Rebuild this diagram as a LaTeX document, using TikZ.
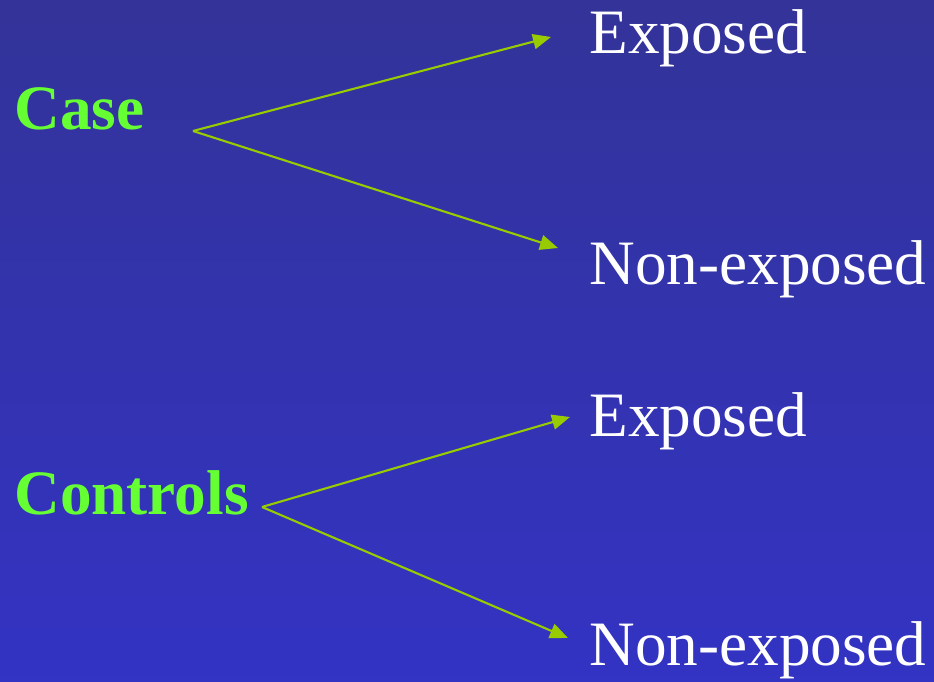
\documentclass[tikz,border=0pt]{standalone}
\usepackage{fontspec}
\setmainfont{Liberation Serif}
\usetikzlibrary{positioning,arrows.meta}
\definecolor{topblue}{RGB}{51,51,153}
\definecolor{botblue}{RGB}{51,51,196}
\definecolor{groupgreen}{RGB}{102,255,51}
\definecolor{arrowgreen}{RGB}{153,204,0}
\begin{document}
\begin{tikzpicture}[
            x=0.02cm, y=-0.02cm,
            group/.style={anchor=base west,inner sep=0pt,text=groupgreen,
              font=\fontsize{36}{40}\selectfont\bfseries},
            outcome/.style={anchor=base west,inner sep=0pt,text=white,
              font=\fontsize{36}{40}\selectfont},
            branch/.style={draw=arrowgreen,line width=1.2pt,
              -{Triangle[length=0.36cm,width=0.3cm]}}]
            \shade[top color=topblue,bottom color=botblue] (0,0) rectangle (934,682);
            \useasboundingbox (0,0) rectangle (934,682);

            \node[group](case) at (14,130){Case};
            \node[group](controls) at (14,515){Controls};
            \node[outcome](caseexp) at (589,54){Exposed};
            \node[outcome](casenon) at (589,285){Non-exposed};
            \node[outcome](ctrlexp) at (589,437){Exposed};
            \node[outcome](ctrlnon) at (589,665){Non-exposed};

            % fork points and arrow tips
            \coordinate (casefork) at (193,131);
            \coordinate (ctrlfork) at (262,507);
            \coordinate (caseexptip) at (551,37);
            \coordinate (casenontip) at (558,248);
            \coordinate (ctrlexptip) at (570,417);
            \coordinate (ctrlnontip) at (568,638);

            \path (casefork) edge[branch] (caseexptip)
            (casefork) edge[branch] (casenontip)
            (ctrlfork) edge[branch] (ctrlexptip)
            (ctrlfork) edge[branch] (ctrlnontip);
            \end{tikzpicture}
\end{document}
